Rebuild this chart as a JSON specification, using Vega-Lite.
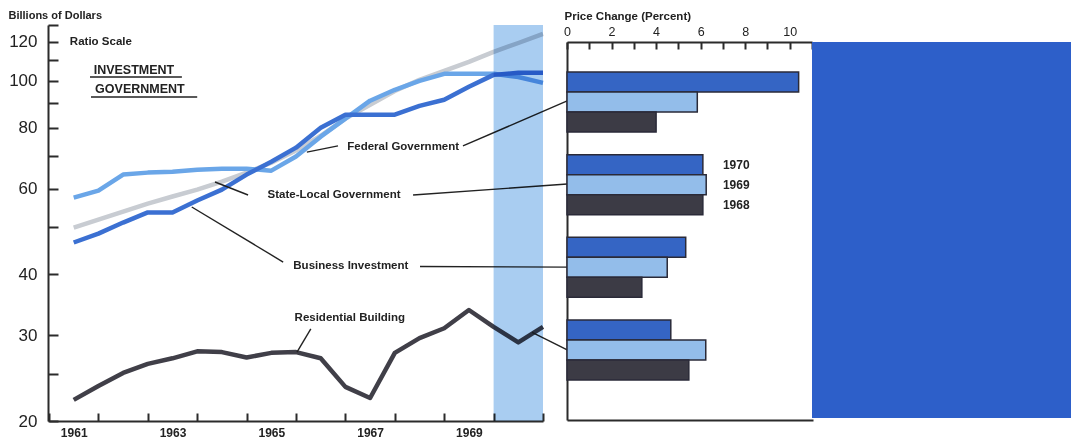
{
  "$schema": "https://vega.github.io/schema/vega-lite/v6.json",
  "width": 1071,
  "height": 440,
  "autosize": {"type": "none"},
  "padding": 0,
  "background": "white",
  "config": {
    "view": {"stroke": null},
    "font": "Liberation Sans",
    "axis": {"grid": false, "domainColor": "#2b2b2b", "tickColor": "#2b2b2b", "domainWidth": 2, "tickWidth": 2, "labelColor": "#222222", "titleColor": "#222222", "labelFont": "Liberation Sans", "titleFont": "Liberation Sans"},
    "text": {"font": "Liberation Sans"}
  },
  "datasets": {
    "series": [
      {"series": "State-Local Government", "year": 1961.5, "value": 49.9},
      {"series": "State-Local Government", "year": 1962.0, "value": 51.8},
      {"series": "State-Local Government", "year": 1962.5, "value": 53.8},
      {"series": "State-Local Government", "year": 1963.0, "value": 55.9},
      {"series": "State-Local Government", "year": 1963.5, "value": 57.8},
      {"series": "State-Local Government", "year": 1964.0, "value": 59.7},
      {"series": "State-Local Government", "year": 1964.5, "value": 62.0},
      {"series": "State-Local Government", "year": 1965.0, "value": 64.7},
      {"series": "State-Local Government", "year": 1965.5, "value": 67.8},
      {"series": "State-Local Government", "year": 1966.0, "value": 71.8},
      {"series": "State-Local Government", "year": 1966.5, "value": 77.0},
      {"series": "State-Local Government", "year": 1967.0, "value": 83.5},
      {"series": "State-Local Government", "year": 1967.5, "value": 89.2},
      {"series": "State-Local Government", "year": 1968.0, "value": 95.2},
      {"series": "State-Local Government", "year": 1968.5, "value": 100.3},
      {"series": "State-Local Government", "year": 1969.0, "value": 104.7},
      {"series": "State-Local Government", "year": 1969.5, "value": 109.2},
      {"series": "State-Local Government", "year": 1970.0, "value": 114.5},
      {"series": "State-Local Government", "year": 1970.5, "value": 119.4},
      {"series": "State-Local Government", "year": 1971.0, "value": 124.6},
      {"series": "Federal Government", "year": 1961.5, "value": 57.5},
      {"series": "Federal Government", "year": 1962.0, "value": 59.4},
      {"series": "Federal Government", "year": 1962.5, "value": 64.1},
      {"series": "Federal Government", "year": 1963.0, "value": 64.7},
      {"series": "Federal Government", "year": 1963.5, "value": 65.0},
      {"series": "Federal Government", "year": 1964.0, "value": 65.6},
      {"series": "Federal Government", "year": 1964.5, "value": 65.9},
      {"series": "Federal Government", "year": 1965.0, "value": 65.9},
      {"series": "Federal Government", "year": 1965.5, "value": 65.3},
      {"series": "Federal Government", "year": 1966.0, "value": 69.8},
      {"series": "Federal Government", "year": 1966.5, "value": 76.7},
      {"series": "Federal Government", "year": 1967.0, "value": 83.5},
      {"series": "Federal Government", "year": 1967.5, "value": 90.9},
      {"series": "Federal Government", "year": 1968.0, "value": 95.7},
      {"series": "Federal Government", "year": 1968.5, "value": 99.8},
      {"series": "Federal Government", "year": 1969.0, "value": 103.2},
      {"series": "Federal Government", "year": 1969.5, "value": 103.2},
      {"series": "Federal Government", "year": 1970.0, "value": 103.2},
      {"series": "Federal Government", "year": 1970.5, "value": 101.7},
      {"series": "Federal Government", "year": 1971.0, "value": 98.9},
      {"series": "Business Investment", "year": 1961.5, "value": 46.5},
      {"series": "Business Investment", "year": 1962.0, "value": 48.5},
      {"series": "Business Investment", "year": 1962.5, "value": 51.1},
      {"series": "Business Investment", "year": 1963.0, "value": 53.6},
      {"series": "Business Investment", "year": 1963.5, "value": 53.6},
      {"series": "Business Investment", "year": 1964.0, "value": 56.7},
      {"series": "Business Investment", "year": 1964.5, "value": 59.7},
      {"series": "Business Investment", "year": 1965.0, "value": 64.1},
      {"series": "Business Investment", "year": 1965.5, "value": 68.1},
      {"series": "Business Investment", "year": 1966.0, "value": 72.8},
      {"series": "Business Investment", "year": 1966.5, "value": 80.0},
      {"series": "Business Investment", "year": 1967.0, "value": 85.1},
      {"series": "Business Investment", "year": 1967.5, "value": 85.1},
      {"series": "Business Investment", "year": 1968.0, "value": 85.1},
      {"series": "Business Investment", "year": 1968.5, "value": 88.7},
      {"series": "Business Investment", "year": 1969.0, "value": 91.3},
      {"series": "Business Investment", "year": 1969.5, "value": 97.1},
      {"series": "Business Investment", "year": 1970.0, "value": 102.7},
      {"series": "Business Investment", "year": 1970.5, "value": 103.7},
      {"series": "Business Investment", "year": 1971.0, "value": 103.7},
      {"series": "Residential Building", "year": 1961.5, "value": 22.1},
      {"series": "Residential Building", "year": 1962.0, "value": 23.6},
      {"series": "Residential Building", "year": 1962.5, "value": 25.1},
      {"series": "Residential Building", "year": 1963.0, "value": 26.2},
      {"series": "Residential Building", "year": 1963.5, "value": 26.9},
      {"series": "Residential Building", "year": 1964.0, "value": 27.8},
      {"series": "Residential Building", "year": 1964.5, "value": 27.7},
      {"series": "Residential Building", "year": 1965.0, "value": 27.0},
      {"series": "Residential Building", "year": 1965.5, "value": 27.6},
      {"series": "Residential Building", "year": 1966.0, "value": 27.7},
      {"series": "Residential Building", "year": 1966.5, "value": 26.9},
      {"series": "Residential Building", "year": 1967.0, "value": 23.5},
      {"series": "Residential Building", "year": 1967.5, "value": 22.3},
      {"series": "Residential Building", "year": 1968.0, "value": 27.6},
      {"series": "Residential Building", "year": 1968.5, "value": 29.6},
      {"series": "Residential Building", "year": 1969.0, "value": 31.0},
      {"series": "Residential Building", "year": 1969.5, "value": 33.8},
      {"series": "Residential Building", "year": 1970.0, "value": 31.2},
      {"series": "Residential Building", "year": 1970.5, "value": 29.0},
      {"series": "Residential Building", "year": 1971.0, "value": 31.2}
    ],
    "leaders": [
      {"seg": "f1", "year": 1966.22, "value": 71.3}, {"seg": "f1", "year": 1966.85, "value": 73.4},
      {"seg": "f2", "year": 1969.38, "value": 73.4}, {"seg": "f2", "year": 1971.49, "value": 90.8},
      {"seg": "s1", "year": 1964.36, "value": 61.9}, {"seg": "s1", "year": 1965.03, "value": 58.2},
      {"seg": "s2", "year": 1968.37, "value": 58.2}, {"seg": "s2", "year": 1971.49, "value": 61.3},
      {"seg": "b1", "year": 1963.89, "value": 55.0}, {"seg": "b1", "year": 1965.74, "value": 42.4},
      {"seg": "b2", "year": 1968.51, "value": 41.5}, {"seg": "b2", "year": 1971.49, "value": 41.4},
      {"seg": "r1", "year": 1966.02, "value": 27.7}, {"seg": "r1", "year": 1966.30, "value": 30.9},
      {"seg": "r2", "year": 1970.78, "value": 30.4}, {"seg": "r2", "year": 1971.49, "value": 28.0}
    ],
    "labels": [
      {"label": "Federal Government", "year": 1968.17, "value": 73.0},
      {"label": "State-Local Government", "year": 1966.77, "value": 58.2},
      {"label": "Business Investment", "year": 1967.11, "value": 41.6},
      {"label": "Residential Building", "year": 1967.09, "value": 32.5},
      {"label": "Ratio Scale", "year": 1962.05, "value": 120}
    ],
    "heads": [
      {"label": "INVESTMENT", "year": 1962.72, "value": 105.1},
      {"label": "GOVERNMENT", "year": 1962.84, "value": 96.1}
    ],
    "underlines": [
      {"year": 1961.83, "year2": 1963.69, "value": 101.7},
      {"year": 1961.85, "year2": 1964.0, "value": 92.5}
    ],
    "prices": [
      {"category": "Federal Government", "year": "1970", "pct": 10.4},
      {"category": "Federal Government", "year": "1969", "pct": 5.85},
      {"category": "Federal Government", "year": "1968", "pct": 4.0},
      {"category": "State-Local Government", "year": "1970", "pct": 6.1},
      {"category": "State-Local Government", "year": "1969", "pct": 6.25},
      {"category": "State-Local Government", "year": "1968", "pct": 6.1},
      {"category": "Business Investment", "year": "1970", "pct": 5.33},
      {"category": "Business Investment", "year": "1969", "pct": 4.5},
      {"category": "Business Investment", "year": "1968", "pct": 3.36},
      {"category": "Residential Building", "year": "1970", "pct": 4.66},
      {"category": "Residential Building", "year": "1969", "pct": 6.23},
      {"category": "Residential Building", "year": "1968", "pct": 5.47}
    ],
    "yearlabels": [
      {"category": "State-Local Government", "year": "1970", "pct": 7.0},
      {"category": "State-Local Government", "year": "1969", "pct": 7.0},
      {"category": "State-Local Government", "year": "1968", "pct": 7.0}
    ]
  },
  "layer": [
    {
      "layer": [
        {
          "data": {"name": "series"},
          "mark": {"type": "line", "strokeWidth": 4.5, "strokeJoin": "round"},
          "encoding": {
            "x": {"field": "year", "type": "quantitative",
              "scale": {"domain": [1961, 1971], "range": [49, 543], "nice": false, "zero": false},
              "axis": {"orient": "bottom", "offset": -19, "values": [1961, 1962, 1963, 1964, 1965, 1966, 1967, 1968, 1969, 1970, 1971],
                "labelExpr": "(datum.value % 2 == 1 && datum.value < 1970) ? format(datum.value, 'd') : ''",
                "labelOffset": 24.7, "tickSize": -8, "labelPadding": 14, "title": null,
                "labelFontWeight": "bold", "labelFontSize": 12, "labelFlush": false, "labelOverlap": false}},
            "y": {"field": "value", "type": "quantitative",
              "scale": {"type": "log", "domain": [20, 130], "range": [421, 25], "nice": false, "zero": false},
              "axis": {"orient": "left", "offset": -48, "values": [20, 25, 30, 40, 50, 60, 70, 80, 90, 100, 110, 120, 130],
                "labelExpr": "indexof([20, 30, 40, 60, 80, 100, 120], datum.value) >= 0 ? format(datum.value, 'd') : ''",
                "tickSize": -10, "labelPadding": 21, "labelFontSize": 17, "labelOverlap": false, "labelFlush": false,
                "title": "Billions of Dollars", "titleAngle": 0, "titleAlign": "left", "titleBaseline": "middle",
                "titleX": -40, "titleY": 15, "titleFontSize": 11, "titleFontWeight": "bold"}},
            "color": {"field": "series", "type": "nominal",
              "scale": {"domain": ["State-Local Government", "Federal Government", "Business Investment", "Residential Building"],
                "range": ["#c8ccd2", "#6aa6e8", "#3b70d2", "#403f48"]},
              "legend": null}
          }
        },
        {
          "data": {"name": "leaders"},
          "mark": {"type": "line", "color": "#222222", "strokeWidth": 1.4},
          "encoding": {
            "x": {"field": "year", "type": "quantitative"},
            "y": {"field": "value", "type": "quantitative"},
            "detail": {"field": "seg", "type": "nominal"}
          }
        },
        {
          "data": {"values": [{}]},
          "mark": {"type": "rect", "color": "#a9cdf1", "blend": "multiply"},
          "encoding": {
            "x": {"datum": 1970, "type": "quantitative"},
            "x2": {"datum": 1971},
            "y": {"datum": 20, "type": "quantitative"},
            "y2": {"datum": 130}
          }
        },
        {
          "data": {"name": "underlines"},
          "mark": {"type": "rule", "color": "#222222", "strokeWidth": 1.6},
          "encoding": {
            "x": {"field": "year", "type": "quantitative"},
            "x2": {"field": "year2"},
            "y": {"field": "value", "type": "quantitative"}
          }
        },
        {
          "data": {"name": "labels"},
          "mark": {"type": "text", "fontSize": 11.5, "fontWeight": "bold", "color": "#222222", "align": "center", "baseline": "middle"},
          "encoding": {
            "x": {"field": "year", "type": "quantitative"},
            "y": {"field": "value", "type": "quantitative"},
            "text": {"field": "label"}
          }
        },
        {
          "data": {"name": "heads"},
          "mark": {"type": "text", "fontSize": 12.5, "fontWeight": "bold", "color": "#222222", "align": "center", "baseline": "middle"},
          "encoding": {
            "x": {"field": "year", "type": "quantitative"},
            "y": {"field": "value", "type": "quantitative"},
            "text": {"field": "label"}
          }
        }
      ]
    },
    {
      "layer": [
        {
          "layer": [
            {
              "data": {"name": "prices"},
              "mark": {"type": "bar", "stroke": "#2a2a38", "strokeWidth": 1.5},
              "encoding": {
                "y": {"field": "category", "type": "nominal",
                  "scale": {"domain": ["Federal Government", "State-Local Government", "Business Investment", "Residential Building"],
                    "range": [42, 420], "paddingInner": 0.274, "paddingOuter": 0.4234, "align": 0.4286},
                  "axis": {"orient": "left", "offset": -567, "labels": false, "ticks": false, "title": null}},
                "yOffset": {"field": "year", "type": "nominal",
                  "scale": {"domain": ["1970", "1969", "1968"], "paddingInner": 0, "paddingOuter": 0}},
                "x": {"field": "pct", "type": "quantitative",
                  "scale": {"domain": [0, 11], "range": [567, 812], "nice": false},
                  "axis": {"orient": "top", "offset": -42, "values": [0, 1, 2, 3, 4, 5, 6, 7, 8, 9, 10, 11],
                    "labelExpr": "(datum.value % 2 == 0 && datum.value <= 10) ? format(datum.value, 'd') : ''",
                    "tickSize": -7, "labelPadding": 11, "labelFontSize": 12.5, "labelFlush": false, "labelOverlap": false,
                    "title": "Price Change (Percent)", "titleAngle": 0, "titleAlign": "left", "titleBaseline": "middle",
                    "titleX": 564, "titleY": -26, "titleFontSize": 11.5, "titleFontWeight": "bold"}},
                "color": {"field": "year", "type": "nominal",
                  "scale": {"domain": ["1970", "1969", "1968"], "range": ["#3565c4", "#93bdea", "#3c3b45"]},
                  "legend": null}
              }
            },
            {
              "data": {"name": "yearlabels"},
              "mark": {"type": "text", "align": "left", "baseline": "middle", "fontSize": 12, "fontWeight": "bold", "color": "#222222"},
              "encoding": {
                "y": {"field": "category", "type": "nominal"},
                "yOffset": {"field": "year", "type": "nominal"},
                "x": {"field": "pct", "type": "quantitative"},
                "text": {"field": "year"}
              }
            }
          ]
        },
        {
          "data": {"values": [{}]},
          "mark": {"type": "rule", "opacity": 0},
          "encoding": {
            "x": {"datum": 0, "type": "quantitative",
              "scale": {"domain": [0, 11], "range": [567, 813], "nice": false},
              "axis": {"orient": "bottom", "offset": -20, "labels": false, "ticks": false, "title": null}},
            "x2": {"datum": 11},
            "y": {"datum": "Federal Government", "type": "nominal"}
          }
        }
      ],
      "resolve": {"scale": {"x": "independent"}, "axis": {"x": "independent"}}
    },
    {
      "data": {"values": [{}]},
      "mark": {"type": "rect", "color": "#2d5fc9"},
      "encoding": {
        "x": {"datum": 0, "type": "quantitative", "scale": {"domain": [0, 1], "range": [812, 1071], "nice": false}, "axis": null},
        "x2": {"datum": 1},
        "y": {"datum": 0, "type": "quantitative", "scale": {"domain": [0, 1], "range": [418, 42], "nice": false}, "axis": null},
        "y2": {"datum": 1}
      }
    }
  ],
  "resolve": {
    "scale": {"x": "independent", "y": "independent", "color": "independent"},
    "axis": {"x": "independent", "y": "independent"}
  }
}
